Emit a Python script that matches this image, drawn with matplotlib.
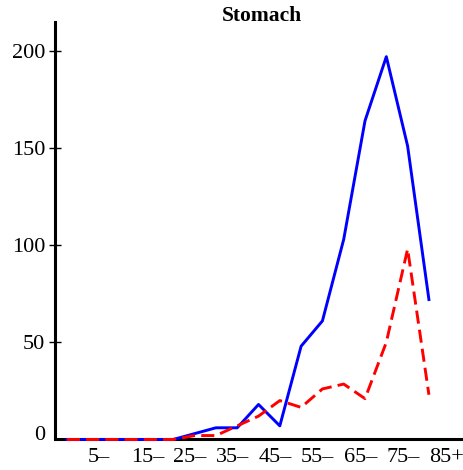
import matplotlib
matplotlib.use("Agg")
import matplotlib.pyplot as plt

# age groups 0-, 5-, ..., 85+
age_groups = ["0–", "5–", "10–", "15–", "20–", "25–", "30–", "35–", "40–",
              "45–", "50–", "55–", "60–", "65–", "70–", "75–", "80–", "85+"]
male = [0, 0, 0, 0, 0, 0, 3, 6, 6, 18, 7, 48, 61, 103, 164, 197, 151, 72]
female = [0, 0, 0, 0, 0, 0, 2, 2, 7, 12, 20, 16.5, 26, 28.5, 21, 50, 98, 23]
y_ticks = [50, 100, 150, 200]

plt.rcParams['font.family'] = ['Liberation Serif', 'DejaVu Serif']

fig = plt.figure(figsize=(4.63, 4.70), dpi=100)
ax = fig.add_axes([0.119, 0.065, 0.881, 0.888])

x = list(range(len(age_groups)))
ax.plot(x, male, color="#0000ff", lw=2.1, clip_on=False, zorder=3)
ax.plot(x, female, color="#ff0000", lw=2.1, dashes=(4.5, 2.1), clip_on=False,
        zorder=4)

ax.set_xlim(-0.55, 18.6)
ax.set_ylim(0, 214.8)

# labels at every other age group, left aligned at the point
ax.set_xticks(x[1::2])
ax.set_xticklabels(age_groups[1::2], ha="left")
ax.tick_params(axis="x", length=0, pad=6, labelsize=16)

ax.set_yticks(y_ticks)
ax.tick_params(axis="y", direction="inout", length=8, width=1, pad=3, labelsize=16)
ax.text(-0.025, 2, "0", transform=ax.get_yaxis_transform(), ha="right",
        va="center", fontsize=16)

for side in ["top", "right"]:
    ax.spines[side].set_visible(False)
for side in ["left", "bottom"]:
    ax.spines[side].set_linewidth(2.2)

fig.text(0.565, 0.966, "Stomach", ha="center", va="center", fontsize=15.5,
         fontweight="bold")

fig.savefig("out.png", dpi=100)
